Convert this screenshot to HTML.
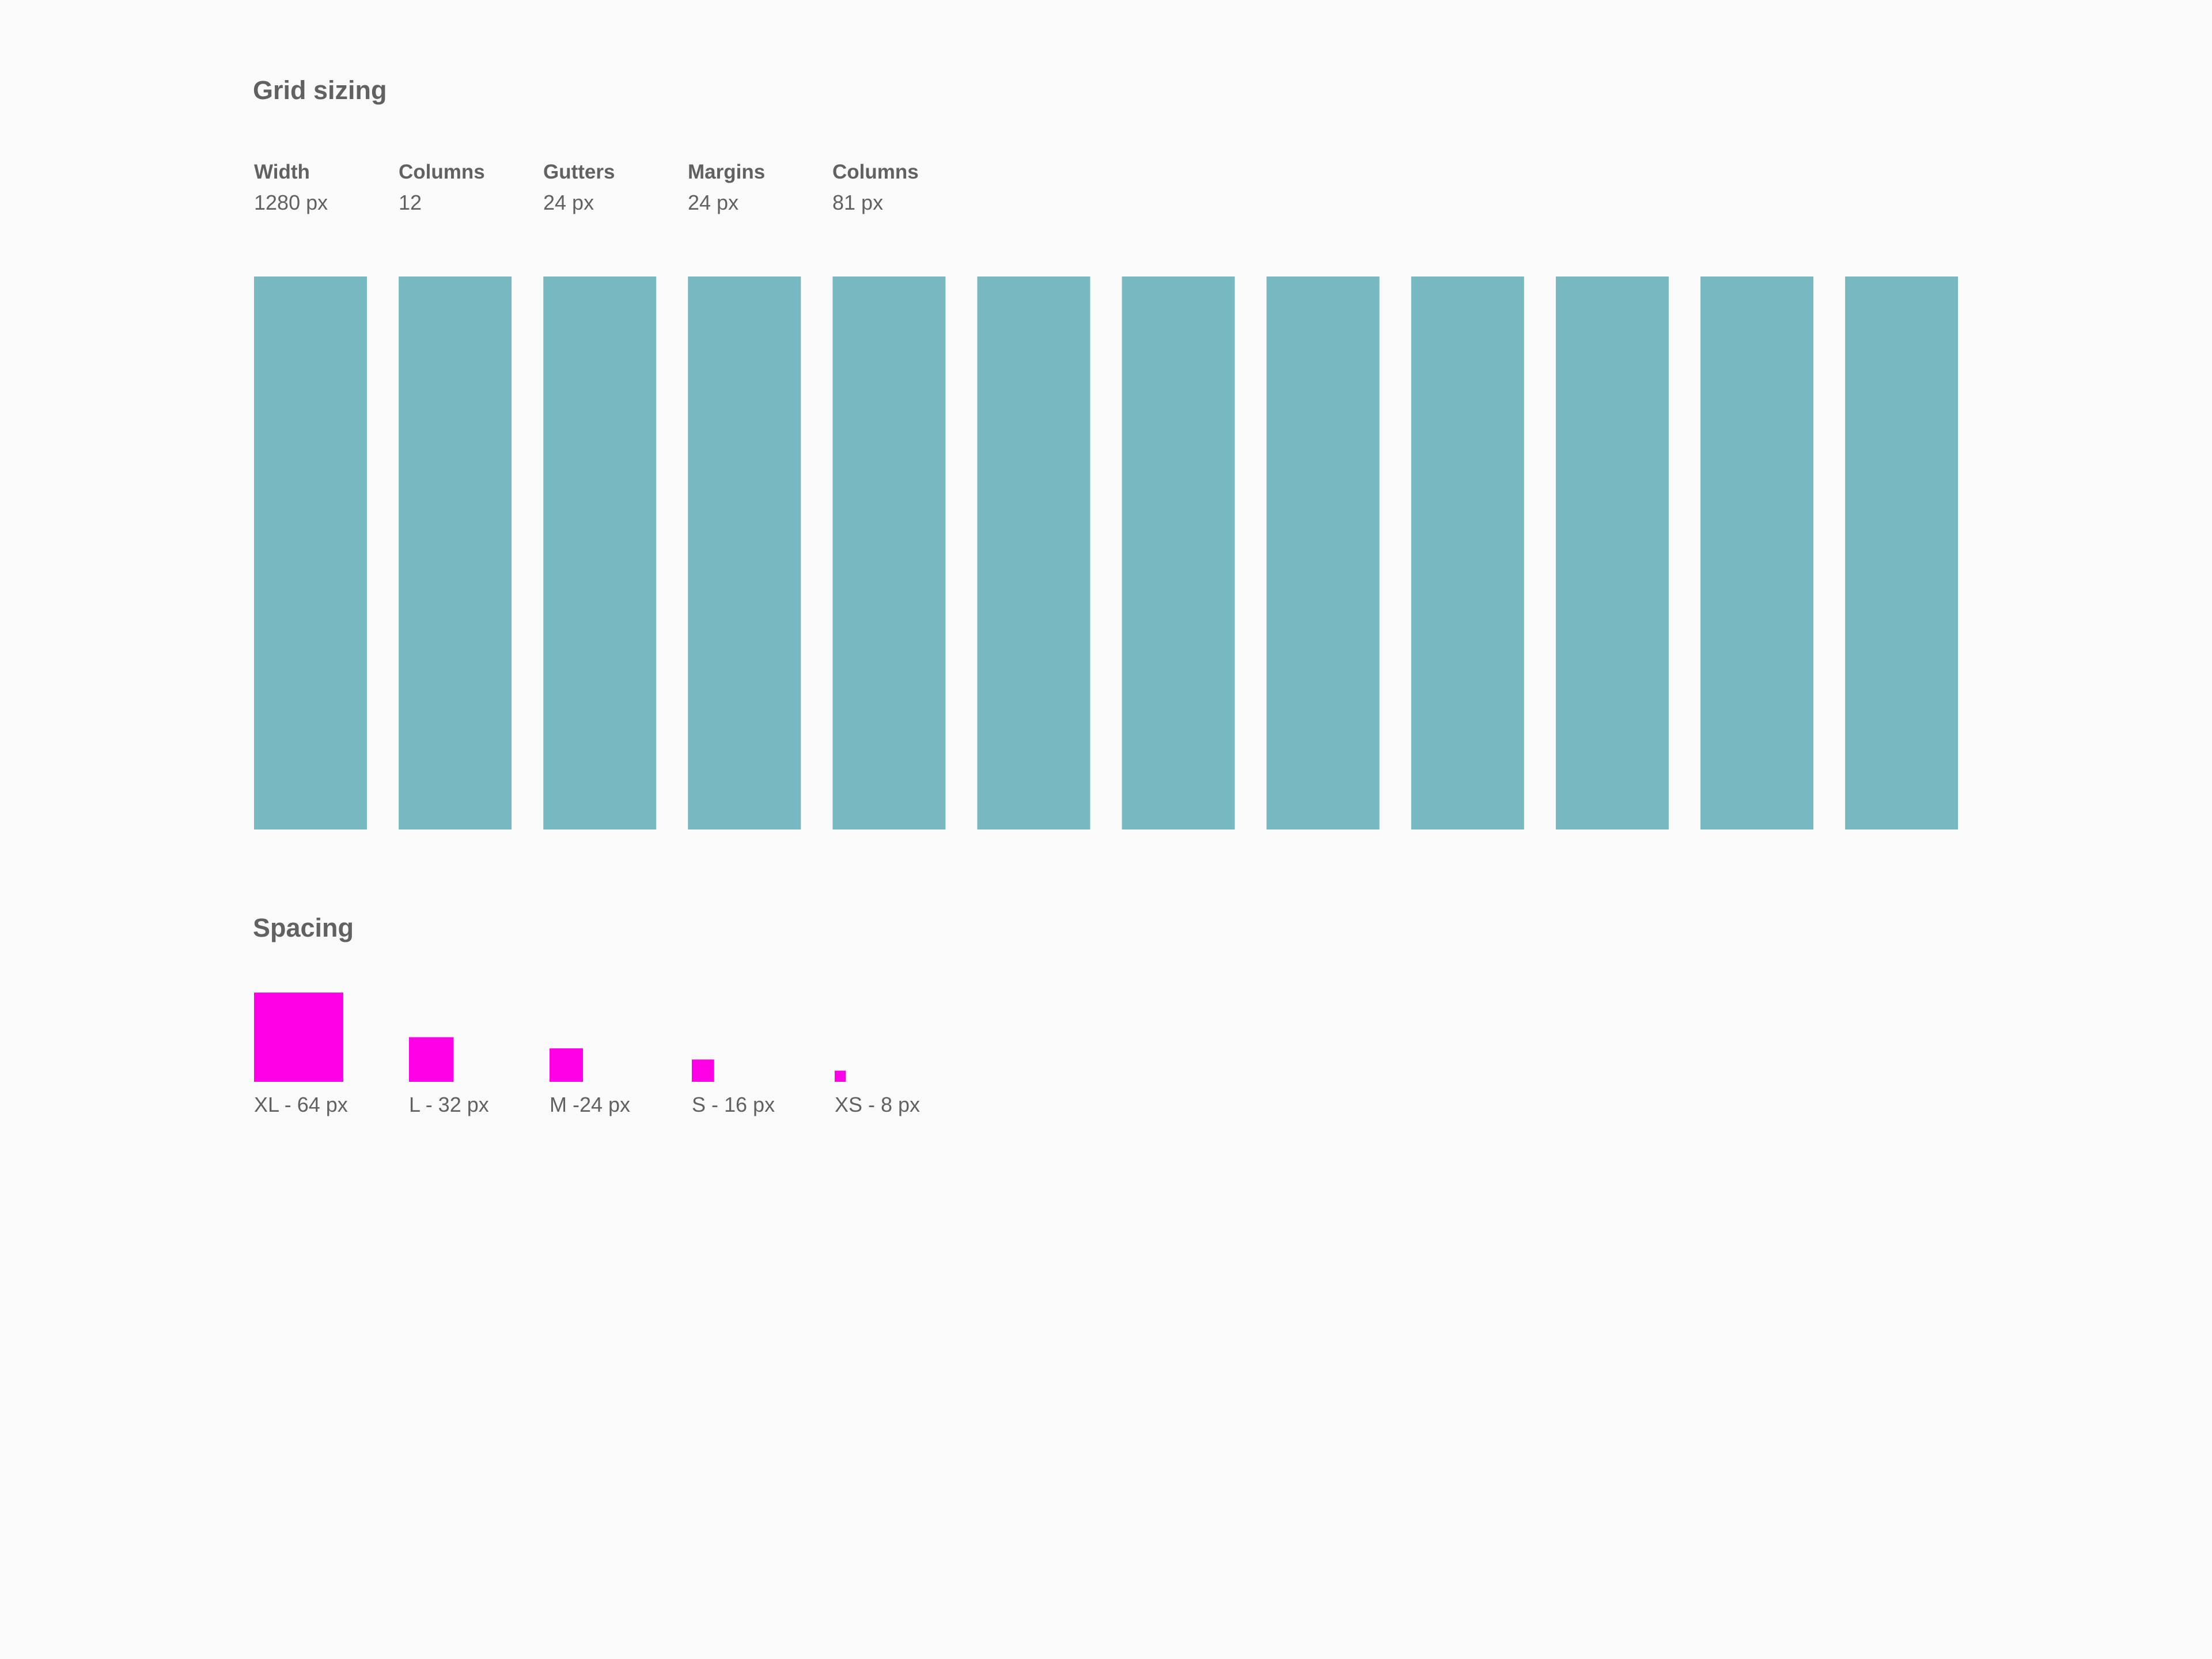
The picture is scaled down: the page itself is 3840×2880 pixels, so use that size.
<!DOCTYPE html>
<html><head><meta charset="utf-8"><style>
html,body{margin:0;padding:0;background:#fafafa;width:3840px;height:2880px;overflow:hidden;font-family:"Liberation Sans",sans-serif;color:#616161}
.t{position:absolute;white-space:nowrap}
.h{font-weight:bold;font-size:45px}
.lb{font-weight:bold;font-size:35px}
.v{font-size:36px}
</style></head><body>
<div class="t h" style="left:439px;top:131px">Grid sizing</div>
<div id="info"></div>
<div class="t h" style="left:439px;top:1585px">Spacing</div>
<svg id="chart" width="3840" height="2880" style="position:absolute;left:0;top:0"></svg>
<script>
const infoLabels=["Width","Columns","Gutters","Margins","Columns"];
const infoValues=["1280 px","12","24 px","24 px","81 px"];
const columnIndex=[1,2,3,4,5,6,7,8,9,10,11,12];
const spacingNames=["XL - 64 px","L - 32 px","M -24 px","S - 16 px","XS - 8 px"];
const spacingValues=[64,32,24,16,8];
const NS="http://www.w3.org/2000/svg";
const svg=document.getElementById('chart');
const infoX=i=>441+i*251;
const info=document.getElementById('info');
infoLabels.forEach((l,i)=>{
  const a=document.createElement('div');a.className='t lb';a.style.left=infoX(i)+'px';a.style.top='279px';a.textContent=l;
  
  
  info.appendChild(a);
  const b=document.createElement('div');b.className='t v';b.style.left=infoX(i)+'px';b.style.top='331px';b.textContent=infoValues[i];
  
  
  info.appendChild(b);
});
const colX=i=>441+(i-1)*251.1;
columnIndex.forEach(c=>{
  const r=document.createElementNS(NS,'rect');
  r.setAttribute('x',colX(c));r.setAttribute('y',480);r.setAttribute('width',196);r.setAttribute('height',960);r.setAttribute('fill','#78b9c1');
  
  
  svg.appendChild(r);
});
const sx=[441,710,954,1201,1449];
const scale=v=>v*2.42;
const base=1878;
spacingValues.forEach((v,i)=>{
  const s=scale(v);
  const r=document.createElementNS(NS,'rect');
  r.setAttribute('x',sx[i]);r.setAttribute('y',base-s);r.setAttribute('width',s);r.setAttribute('height',s);r.setAttribute('fill','#ff00e6');
  
  
  svg.appendChild(r);
  const t=document.createElementNS(NS,'text');
  t.setAttribute('x',sx[i]);t.setAttribute('y',1930);t.setAttribute('font-size','36');t.setAttribute('fill','#616161');t.setAttribute('font-family','Liberation Sans, sans-serif');
  t.textContent=spacingNames[i];
  
  
  svg.appendChild(t);
});
</script>
</body></html>
